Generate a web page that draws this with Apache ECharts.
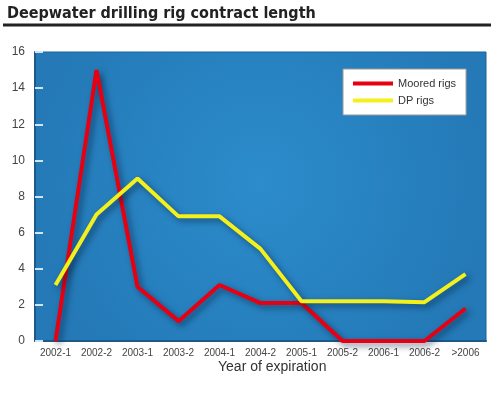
<!DOCTYPE html>
<html><head><meta charset="utf-8">
<script src="https://cdn.jsdelivr.net/npm/echarts@6/dist/echarts.min.js"></script>
<style>html,body{margin:0;padding:0;background:#fff}#c{width:500px;height:394px}</style>
</head><body><div id="c"></div>
<script>
var categories = ['2002-1','2002-2','2003-1','2003-2','2004-1','2004-2','2005-1','2005-2','2006-1','2006-2','>2006'];
var mooredRigs = [0, 15, 3, 1.1, 3.1, 2.1, 2.1, 0, 0, 0, 1.8];
var dpRigs = [3.1, 7, 9, 6.9, 6.9, 5.1, 2.2, 2.2, 2.2, 2.15, 3.7];
var yTicks = [0, 16, 2];

var chart = echarts.init(document.getElementById('c'));
var shadow = {shadowColor:'rgba(0,20,50,0.55)', shadowBlur:6, shadowOffsetX:3, shadowOffsetY:3};
chart.setOption({
  animation:false,
  backgroundColor:'#fff',
  title:{text:'Deepwater drilling rig contract length', left:2, top:1,
    textStyle:{fontFamily:'"DejaVu Sans Condensed","DejaVu Sans",sans-serif', fontWeight:'bold', fontSize:16, color:'#222'}},
  graphic:[
    {type:'line', shape:{x1:3,y1:25,x2:491,y2:25}, style:{stroke:'#222', lineWidth:3}},
    {type:'text', left:218, top:360, style:{text:'Year of expiration', fontFamily:'"Liberation Sans",Arial,sans-serif', fontSize:14, fill:'#333'}}
  ],
  legend:{orient:'vertical', left:343, top:69, backgroundColor:'#fff', borderColor:'#999', borderWidth:1,
    padding:[9,10,9,10], itemGap:6, itemWidth:40, itemHeight:4, icon:'rect',
    textStyle:{fontFamily:'"Liberation Sans",Arial,sans-serif', fontSize:11, color:'#333'},
    data:['Moored rigs','DP rigs']},
  grid:{left:35, right:14, top:52, bottom:53, show:true,
    backgroundColor:{type:'radial', x:0.5, y:0.45, r:0.8, colorStops:[{offset:0,color:'#2c8ccc'},{offset:1,color:'#2479b6'}]},
    borderColor:'#1d6499', borderWidth:1},
  xAxis:{type:'category', data:categories, boundaryGap:true,
    axisLine:{lineStyle:{color:'#1b5a88', width:2}},
    axisTick:{inside:true, length:9, lineStyle:{color:'#cfe4f4', width:2}},
    axisLabel:{margin:7, fontSize:10, color:'#444', fontFamily:'"Liberation Sans",Arial,sans-serif', interval:0}},
  yAxis:{type:'value', min:yTicks[0], max:yTicks[1], interval:yTicks[2],
    splitLine:{show:false},
    axisLine:{show:true, lineStyle:{color:'#1b5a88', width:2}},
    axisTick:{show:true, inside:true, length:8, lineStyle:{color:'#cfe4f4', width:2}},
    axisLabel:{margin:10, fontSize:12, color:'#444', fontFamily:'"Liberation Sans",Arial,sans-serif'}},
  series:[
    {name:'Moored rigs', type:'line', data:mooredRigs, symbol:'none', clip:false, z:3,
     itemStyle:{color:'#e60012'}, lineStyle:Object.assign({color:'#e60012', width:4}, shadow)},
    {name:'DP rigs', type:'line', data:dpRigs, symbol:'none', clip:false, z:4,
     itemStyle:{color:'#f4f01c'}, lineStyle:Object.assign({color:'#f4f01c', width:4}, shadow)}
  ]
});
</script></body></html>
